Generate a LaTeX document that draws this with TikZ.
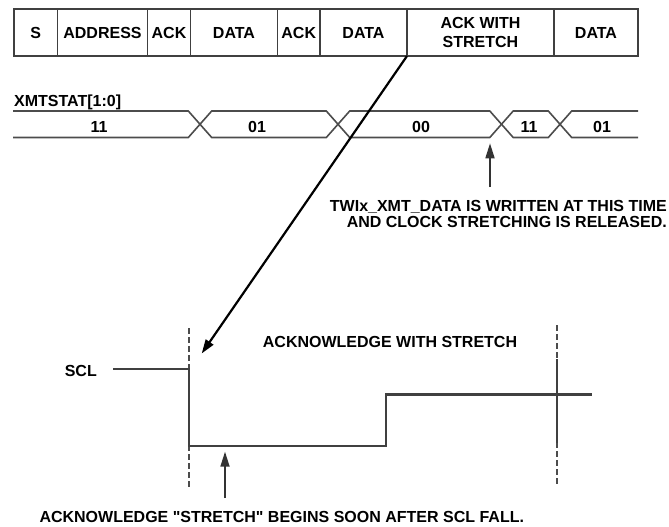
\documentclass[tikz,border=0pt]{standalone}
\usepackage{fontspec}
\setmainfont{Liberation Sans}[Ligatures=TeXOff]
\usepackage{tikz}
\usetikzlibrary{arrows.meta, positioning}

\begin{document}
\begin{tikzpicture}[
    x=1pt, y=-1pt,
    txt/.style={font=\bfseries\fontsize{16}{19.3}\selectfont, inner sep=0pt},
    field/.style={rectangle, draw=black!75, line width=1.8pt, txt, outer sep=0pt, minimum height=46.7pt, align=center},
    bus/.style={draw=black!70, line width=1.6pt},
    sig/.style={draw=black!75, line width=2.2pt},
    guide/.style={draw=black!70, line width=2pt, dash pattern=on 6pt off 3pt},
    arr/.style={-{Triangle[length=14pt, width=9pt]}, line width=2.2pt},
    uparr/.style={-{Triangle[length=15pt, width=9pt]}, line width=1.7pt, draw=black!80}
]
\useasboundingbox (0,0) rectangle (669,527);

% Frame fields, side by side
\node[field, minimum width=43.5pt, anchor=north west] (s) at (14,9.3) {S};
\node[field, minimum width=90pt, right=0pt of s] (addr) {ADDRESS};
\node[field, minimum width=43pt, right=0pt of addr] (ack1) {ACK};
\node[field, minimum width=87pt, right=0pt of ack1] (data1) {DATA};
\node[field, minimum width=42.5pt, right=0pt of data1] (ack2) {ACK};
\node[field, minimum width=87pt, right=0pt of ack2] (data2) {DATA};
\node[field, minimum width=147pt, right=0pt of data2] (ackw) {ACK WITH\\STRETCH};
\node[field, minimum width=84pt, right=0pt of ackw] (data3) {DATA};

% XMTSTAT bus
\node[txt, anchor=base west] (xmt) at (14,106.8) {XMTSTAT[1:0]};
\draw[bus] (13,111) -- (188.3,111) -- (211.7,137.5) -- (326.3,137.5) -- (349.7,111) -- (489.8,111)
    -- (513.2,137.5) -- (548.3,137.5) -- (571.7,111) -- (638,111);
\draw[bus] (13,137.5) -- (188.3,137.5) -- (211.7,111) -- (326.3,111) -- (349.7,137.5) -- (489.8,137.5)
    -- (513.2,111) -- (548.3,111) -- (571.7,137.5) -- (638,137.5);
\node[txt] (v11a) at (99,126.5) {11};
\node[txt] (v01a) at (257,126.5) {01};
\node[txt] (v00) at (421,126.5) {00};
\node[txt] (v11b) at (529,126.5) {11};
\node[txt] (v01b) at (602,126.5) {01};

\coordinate (wrbase) at (490,187);
\coordinate (wrtip) at (490,143.3);
\draw[uparr] (wrbase) -- (wrtip);
\node[txt, anchor=north east, align=right, font=\bfseries\fontsize{16}{16.5}\selectfont] (wr) at (667,200)
    {TWIx\_XMT\_DATA IS WRITTEN AT THIS TIME\\AND CLOCK STRETCHING IS RELEASED.};

% SCL waveform
\node[txt] (aws) at (390,342) {ACKNOWLEDGE WITH STRETCH};
\node[txt] (scl) at (80.8,371) {SCL};
\draw[guide] (189,328) -- (189,488);
\draw[guide] (556.7,325) -- (556.7,485);
\draw[sig] (113,369) -- (189,369) -- (189,445.7) -- (386,445.7) -- (386,394.5) -- (592,394.5);
\draw[sig] (556.7,359) -- (556.7,443.3);

\coordinate (fall) at (201.7,353.5);
\draw[arr] (ackw.south west) -- (fall);

\coordinate (stbase) at (225,498);
\coordinate (sttip) at (225,451.7);
\draw[uparr] (stbase) -- (sttip);
\node[txt, anchor=base west] (note) at (39.3,522.5) {ACKNOWLEDGE "STRETCH" BEGINS SOON AFTER SCL FALL.};
\end{tikzpicture}
\end{document}
